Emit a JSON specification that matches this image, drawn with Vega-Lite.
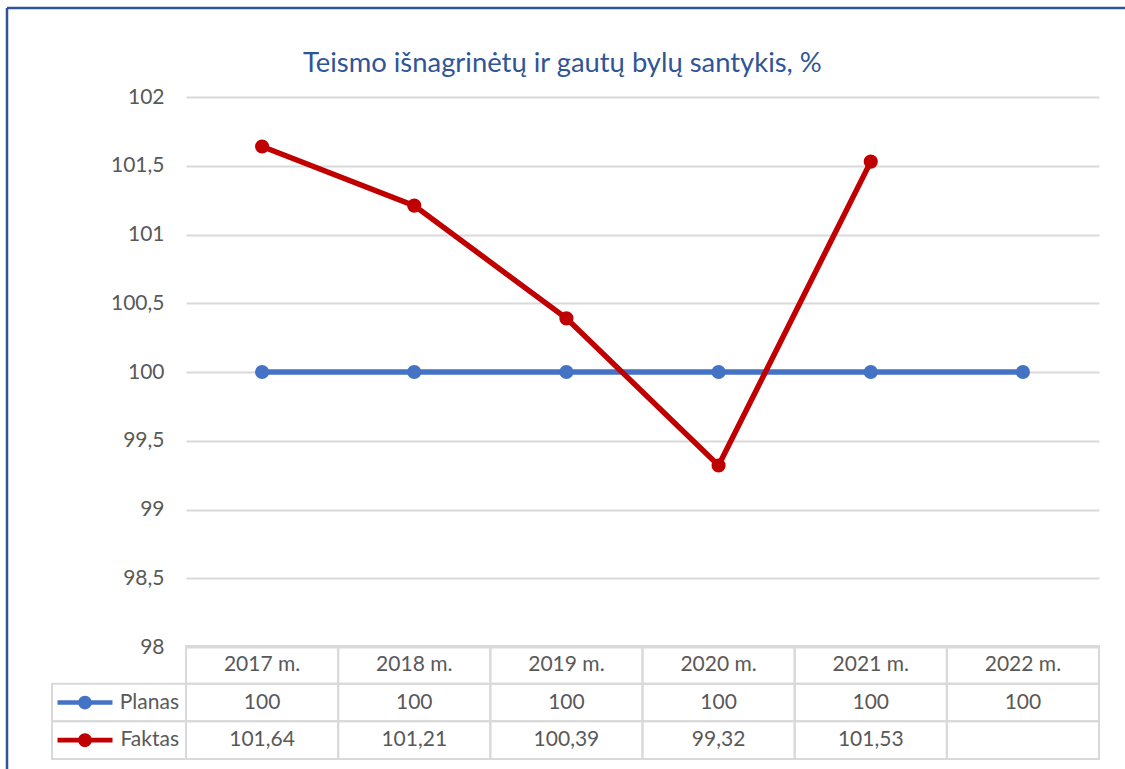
{
  "$schema": "https://vega.github.io/schema/vega-lite/v6.json",
  "autosize": "none",
  "width": 1118,
  "height": 761,
  "padding": {"left": 7, "top": 8, "right": 0, "bottom": 0},
  "background": "white",
  "title": {
    "text": "Teismo išnagrinėtų ir gautų bylų santykis, %",
    "font": "Lato",
    "fontSize": 27.4,
    "fontWeight": "normal",
    "color": "#2F5597",
    "anchor": "start",
    "frame": "group",
    "baseline": "alphabetic",
    "offset": -62,
    "dx": 296,
    "dy": 29
  },
  "config": {
    "view": {"stroke": "#2F5597", "strokeWidth": 2.5, "strokeDash": [1118, 1879, 761, 0]},
    "locale": {"number": {"decimal": ",", "thousands": " ", "grouping": [3], "currency": ["", ""]}},
    "text": {"font": "Lato", "fontSize": 21, "color": "#595959"}
  },
  "datasets": {
    "d": [
      {"year": "2017 m.", "series": "Planas", "value": 100},
      {"year": "2018 m.", "series": "Planas", "value": 100},
      {"year": "2019 m.", "series": "Planas", "value": 100},
      {"year": "2020 m.", "series": "Planas", "value": 100},
      {"year": "2021 m.", "series": "Planas", "value": 100},
      {"year": "2022 m.", "series": "Planas", "value": 100},
      {"year": "2017 m.", "series": "Faktas", "value": 101.64},
      {"year": "2018 m.", "series": "Faktas", "value": 101.21},
      {"year": "2019 m.", "series": "Faktas", "value": 100.39},
      {"year": "2020 m.", "series": "Faktas", "value": 99.32},
      {"year": "2021 m.", "series": "Faktas", "value": 101.53},
      {"year": "2022 m.", "series": "Faktas", "value": null}
    ]
  },
  "data": {"name": "d"},
  "layer": [
    {
      "mark": {"type": "line", "strokeWidth": 5.5, "point": {"filled": true, "size": 200, "opacity": 1}},
      "encoding": {
        "x": {"field": "year", "type": "nominal", "sort": null, "axis": null,
              "scale": {"type": "band", "range": [179, 1092], "paddingInner": 0, "paddingOuter": 0}},
        "y": {"field": "value", "type": "quantitative",
              "scale": {"domain": [98, 102], "range": [639, 89], "nice": false, "zero": false},
              "axis": {"title": null, "values": [98, 98.5, 99, 99.5, 100, 100.5, 101, 101.5, 102],
                       "format": ".1~f", "grid": true, "gridColor": "#d9d9d9", "gridWidth": 2,
                       "ticks": false, "tickSize": 0, "domain": false, "labelPadding": -157,
                       "labelFont": "Lato", "labelFontSize": 21, "labelColor": "#595959"}},
        "color": {"field": "series", "type": "nominal", "legend": null,
                  "scale": {"domain": ["Planas", "Faktas"], "range": ["#4472C4", "#C00000"]}}
      }
    },
    {
      "layer": [
        {
          "mark": {"type": "rect", "stroke": "#d9d9d9", "strokeWidth": 2, "fillOpacity": 0},
          "encoding": {
            "x": {"field": "year", "type": "nominal", "sort": null, "axis": null,
                  "scale": {"type": "band", "range": [179, 1092], "paddingInner": 0, "paddingOuter": 0}},
            "y": {"field": "series", "type": "nominal", "axis": null,
                  "scale": {"domain": ["hdr", "Planas", "Faktas"], "range": [638, 751], "paddingInner": 0, "paddingOuter": 0}}
          }
        },
        {
          "transform": [{"filter": "datum.series == 'Planas'"}],
          "mark": {"type": "rect", "stroke": "#d9d9d9", "strokeWidth": 2, "fillOpacity": 0},
          "encoding": {
            "x": {"field": "year", "type": "nominal", "sort": null},
            "y": {"datum": "hdr", "type": "nominal"}
          }
        },
        {
          "transform": [{"filter": "isValid(datum.value)"}],
          "mark": {"type": "text", "baseline": "middle", "align": "center"},
          "encoding": {
            "x": {"field": "year", "type": "nominal", "sort": null},
            "y": {"field": "series", "type": "nominal"},
            "text": {"field": "value", "type": "quantitative", "format": ".2~f"}
          }
        },
        {
          "transform": [{"filter": "datum.series == 'Planas'"}],
          "mark": {"type": "text", "baseline": "middle", "align": "center"},
          "encoding": {
            "x": {"field": "year", "type": "nominal", "sort": null},
            "y": {"datum": "hdr", "type": "nominal"},
            "text": {"field": "year", "type": "nominal"}
          }
        }
      ]
    },
    {
      "transform": [{"filter": "datum.year == '2017 m.'"}],
      "layer": [
        {
          "mark": {"type": "rect", "stroke": "#d9d9d9", "strokeWidth": 2, "fillOpacity": 0},
          "encoding": {
            "x": {"datum": "leg", "type": "nominal", "axis": null,
                  "scale": {"type": "band", "domain": ["leg"], "range": [45, 179], "paddingInner": 0, "paddingOuter": 0}},
            "y": {"field": "series", "type": "nominal", "axis": null,
                  "scale": {"domain": ["Planas", "Faktas"], "range": [675.67, 751], "paddingInner": 0, "paddingOuter": 0}}
          }
        },
        {
          "mark": {"type": "point", "filled": true, "opacity": 1, "size": 3025, "strokeWidth": 0, "xOffset": -34,
                   "shape": "M-1,-0.085L1,-0.085L1,0.085L-1,0.085Z M-0.25,0A0.25,0.25 0 1,1 0.25,0A0.25,0.25 0 1,1 -0.25,0Z"},
          "encoding": {
            "x": {"datum": "leg", "type": "nominal"},
            "y": {"field": "series", "type": "nominal"},
            "color": {"field": "series", "type": "nominal", "legend": null}
          }
        },
        {
          "mark": {"type": "text", "baseline": "middle", "align": "right", "dx": 60},
          "encoding": {
            "x": {"datum": "leg", "type": "nominal"},
            "y": {"field": "series", "type": "nominal"},
            "text": {"field": "series", "type": "nominal"}
          }
        }
      ]
    }
  ],
  "resolve": {"scale": {"x": "independent", "y": "independent"}}
}
